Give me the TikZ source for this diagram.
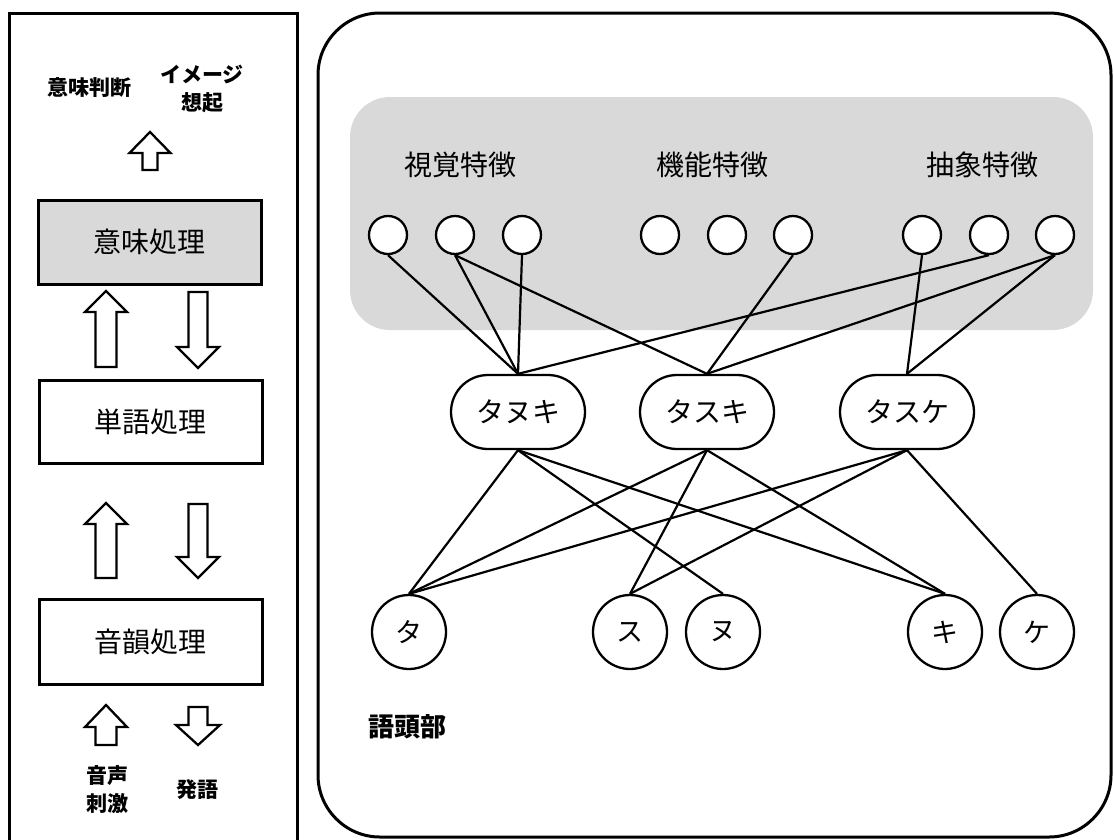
\documentclass[tikz,border=0pt]{standalone}
\usepackage{fontspec}
\setmainfont{Noto Sans CJK JP}
\usetikzlibrary{shapes.misc}
\begin{document}
\begin{tikzpicture}[x=1pt,y=-1pt,
  frame/.style={line width=3pt},
  shade/.style={fill=black!15},
  feat/.style={circle, draw, line width=2.3pt, fill=white, minimum size=38pt, inner sep=0pt},
  word/.style={rounded rectangle, draw, line width=2.3pt, fill=white, minimum width=134pt, minimum height=74pt, inner sep=0pt, font=\fontsize{28}{30}\selectfont},
  letter/.style={circle, draw, line width=2.3pt, fill=white, minimum size=74pt, inner sep=0pt, font=\fontsize{27}{30}\selectfont},
  conn/.style={line width=2.2pt},
  proc/.style={rectangle, draw, line width=3pt, minimum width=223pt, inner sep=0pt, font=\fontsize{28}{30}\selectfont},
  flabel/.style={font=\fontsize{28}{30}\selectfont},
  blabel/.style={font=\bfseries\fontsize{21}{28}\selectfont, align=center},
  arrowline/.style={line width=2.3pt, fill=white, line join=miter},
  pics/blockarrow/.style args={#1/#2/#3/#4}{code={
    \draw[arrowline] (0,0) -- (#3,#4) -- (#2,#4) -- (#2,#1) -- (-#2,#1) -- (-#2,#4) -- (-#3,#4) -- cycle;
  }}
]
\useasboundingbox (0,0) rectangle (1114,839);

% left frame
\draw[frame] (9,845) -- (9,13) -- (297,13) -- (297,845);
% right frame
\draw[frame, rounded corners=62pt] (318,13) rectangle (1111,837);
% shaded feature area
\fill[shade, rounded corners=40pt] (350,97) rectangle (1093,330);

% left column
\node[blabel] (judge) at (89,88) {意味判断};
\node[blabel] (image) at (202,89) {イメージ\\想起};
\pic (a1) at (150,132) {blockarrow=38/7.5/20.5/21};
\node[proc, shade, minimum height=84pt] (sem) at (149.5,242) {意味処理};
\pic (a2) at (106,291) {blockarrow=76/10.5/21/21};
\pic[rotate=180] (a3) at (198,368) {blockarrow=76/9.5/21/21};
\node[proc, minimum height=83pt] (wrd) at (150.5,421.5) {単語処理};
\pic (a4) at (106,503) {blockarrow=75/10.5/21/21};
\pic[rotate=180] (a5) at (198,578) {blockarrow=74/9.5/21/21};
\node[proc, minimum height=85pt] (pho) at (150.5,641.5) {音韻処理};
\pic (a6) at (106,705) {blockarrow=40/10.5/21/22};
\pic[rotate=180] (a7) at (198,745) {blockarrow=38/9.5/22/20};
\node[blabel] (stim) at (107,790) {音声\\刺激};
\node[blabel] (utt) at (197,790) {発語};

% feature labels
\node[flabel] (lv) at (460,165) {視覚特徴};
\node[flabel] (lf) at (712,165) {機能特徴};
\node[flabel] (la) at (982,165) {抽象特徴};

% feature units
\node[feat] (v1) at (388,235) {};
\node[feat] (v2) at (455,235) {};
\node[feat] (v3) at (522,235) {};
\node[feat] (f1) at (660,235) {};
\node[feat] (f2) at (727,235) {};
\node[feat] (f3) at (793,235) {};
\node[feat] (b1) at (922,235) {};
\node[feat] (b2) at (989,235) {};
\node[feat] (b3) at (1055,235) {};

% word units
\node[word] (w1) at (518,412) {タヌキ};
\node[word] (w2) at (707,412) {タスキ};
\node[word] (w3) at (907,412) {タスケ};

% phoneme units
\node[letter] (p1) at (409,632) {タ};
\node[letter] (p2) at (630,632) {ス};
\node[letter] (p3) at (723,632) {ヌ};
\node[letter] (p4) at (945,632) {キ};
\node[letter] (p5) at (1037,632) {ケ};

\node[font=\bfseries\fontsize{26}{30}\selectfont] (head) at (407,727) {語頭部};

% connections features - words
\draw[conn] (v1.south) -- (w1.north);
\draw[conn] (v2.south) -- (w1.north);
\draw[conn] (v3.south) -- (w1.north);
\draw[conn] (b2.south) -- (w1.north);
\draw[conn] (v2.south) -- (w2.north);
\draw[conn] (f3.south) -- (w2.north);
\draw[conn] (b3.south) -- (w2.north);
\draw[conn] (b1.south) -- (w3.north);
\draw[conn] (b3.south) -- (w3.north);

% connections words - phonemes
\draw[conn] (w1.south) -- (p1.north);
\draw[conn] (w1.south) -- (p3.north);
\draw[conn] (w1.south) -- (p4.north);
\draw[conn] (w2.south) -- (p1.north);
\draw[conn] (w2.south) -- (p2.north);
\draw[conn] (w2.south) -- (p4.north);
\draw[conn] (w3.south) -- (p1.north);
\draw[conn] (w3.south) -- (p2.north);
\draw[conn] (w3.south) -- (p5.north);
\end{tikzpicture}
\end{document}
